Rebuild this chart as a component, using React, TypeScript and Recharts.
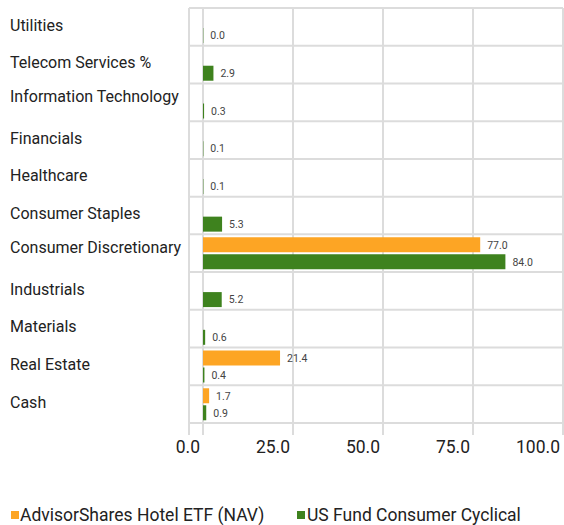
import { BarChart, Bar, XAxis, YAxis, CartesianGrid, LabelList } from "recharts"

const categories = [
  "Utilities",
  "Telecom Services %",
  "Information Technology",
  "Financials",
  "Healthcare",
  "Consumer Staples",
  "Consumer Discretionary",
  "Industrials",
  "Materials",
  "Real Estate",
  "Cash",
]
const hotelEtf = [null, null, null, null, null, null, 77.0, null, null, 21.4, 1.7]
const consumerCyclical = [0.0, 2.9, 0.3, 0.1, 0.1, 5.3, 84.0, 5.2, 0.6, 0.4, 0.9]
const xTicks = [0, 25, 50, 75, 100]

const ORANGE = "#fda524"
const GREEN = "#3e821e"
const FONT = "Roboto, 'Liberation Sans', sans-serif"

const data = categories.map((name, i) => ({ name, hotel: hotelEtf[i], cyclical: consumerCyclical[i] }))

const fmt = (v: any) => (v === null || v === undefined ? "" : Number(v).toFixed(1))

const CategoryTick = ({ y, payload }: any) => {
  const lift = payload.value.length > 20 ? 6 : 2
  return (
    <text x={10} y={y - lift} dy="0.355em" textAnchor="start" fontSize={16} fill="#222" fontFamily={FONT}>
      {payload.value}
    </text>
  )
}

const ValueTick = ({ x, y, payload }: any) => (
  <text x={x - 3} y={y - 2} dy="0.71em" textAnchor="end" fontSize={17.5} fill="#222" fontFamily={FONT}>
    {fmt(payload.value)}
  </text>
)

const ChartLegend = () => (
  <div
    style={{
      position: "absolute",
      top: 505,
      left: 0,
      width: 564,
      display: "flex",
      fontFamily: FONT,
      fontSize: 17.5,
      color: "#222",
      lineHeight: "20px",
      whiteSpace: "nowrap",
    }}
  >
    <span style={{ display: "flex", alignItems: "center", marginLeft: 11 }}>
      <span style={{ width: 8, height: 8, background: ORANGE, display: "inline-block", marginRight: 1 }} />
      AdvisorShares Hotel ETF (NAV)
    </span>
    <span style={{ display: "flex", alignItems: "center", position: "absolute", left: 297 }}>
      <span style={{ width: 8, height: 8, background: GREEN, display: "inline-block", marginRight: 2 }} />
      US Fund Consumer Cyclical
    </span>
  </div>
)

export default function App() {
  return (
    <div style={{ position: "absolute", left: 0, top: 0, width: 564, height: 525, background: "#fff", overflow: "hidden" }}>
      <BarChart
        width={564}
        height={525}
        data={data}
        layout="vertical"
        margin={{ top: 8, right: 1, bottom: 60, left: 0 }}
        barCategoryGap={3}
        barGap={2}
      >
        <CartesianGrid
          stroke="#dcdcdc"
          strokeWidth={2}
          horizontalCoordinatesGenerator={({ offset }: any) => {
            const rowH = (offset.height - 12) / categories.length
            return Array.from({ length: categories.length + 1 }, (_, i) => offset.top + i * rowH)
          }}
        />
        <XAxis
          type="number"
          domain={[0, 100]}
          ticks={xTicks}
          axisLine={false}
          tickLine={false}
          height={30}
          padding={{ left: 14, right: 0 }}
          tick={<ValueTick />}
          interval={0}
        />
        <YAxis
          type="category"
          dataKey="name"
          width={189}
          axisLine={false}
          tickLine={false}
          padding={{ top: 0, bottom: 12 }}
          tick={<CategoryTick />}
          interval={0}
        />
        <Bar dataKey="hotel" name="AdvisorShares Hotel ETF (NAV)" fill={ORANGE} isAnimationActive={false}>
          <LabelList dataKey="hotel" position="right" offset={7} fontSize={10.5} fill="#444" fontFamily={FONT} formatter={fmt} />
        </Bar>
        <Bar dataKey="cyclical" name="US Fund Consumer Cyclical" fill={GREEN} minPointSize={0.3} isAnimationActive={false}>
          <LabelList dataKey="cyclical" position="right" offset={7} fontSize={10.5} fill="#444" fontFamily={FONT} formatter={fmt} />
        </Bar>
      </BarChart>
      <ChartLegend />
    </div>
  )
}
